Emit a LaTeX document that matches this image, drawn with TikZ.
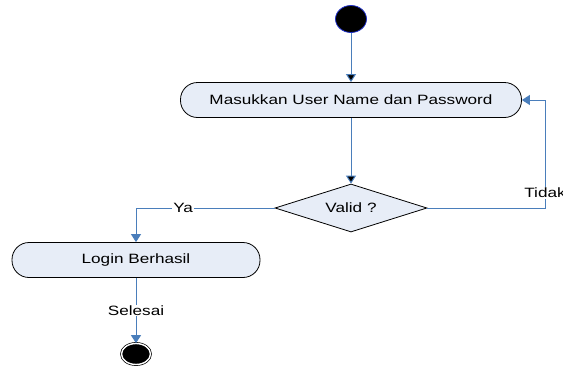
\documentclass[tikz,border=0pt]{standalone}
\usepackage{fontspec}
\setmainfont{Liberation Sans}[FakeStretch=1.27]
\usepackage{tikz}
\usetikzlibrary{positioning,shapes.geometric,arrows.meta}

\definecolor{flowblue}{HTML}{4A7EBB}
\definecolor{actfill}{HTML}{E7EDF7}
\definecolor{ringblue}{HTML}{2030C8}

\tikzset{
	act/.style={shape=rectangle,draw=black,fill=actfill,rounded corners=17pt,minimum height=35pt,line width=0.8pt,font=\fontsize{13.5}{16}\selectfont},
	flow/.style={draw=flowblue,line width=1pt,-{Triangle[width=10pt,length=8pt]}},
	lbl/.style={fill=white,inner sep=1pt,font=\fontsize{13.5}{16}\selectfont}
}

\begin{document}
\begin{tikzpicture}[x=1pt,y=-1pt]
	
	\useasboundingbox (0,0) rectangle (563,365);
	
	\node[shape=ellipse,draw=ringblue,fill=black,line width=0.8pt,minimum width=31pt,minimum height=27pt] (0) at (351,19) {};
	\node[act,minimum width=341pt] (1) at (351,100) {Masukkan User Name dan Password};
	\node[shape=diamond,draw=black,fill=actfill,line width=0.8pt,aspect=3,inner sep=0pt,minimum width=152pt,minimum height=48pt,font=\fontsize{13.5}{16}\selectfont] (2) at (351,208) {Valid ?};
	\node[act,minimum width=248pt] (3) at (136,260) {Login Berhasil};
	\node[shape=ellipse,draw=black,fill=black,double=white,double distance=1.4pt,line width=0.7pt,minimum width=29pt,minimum height=21pt] (4) at (136,354) {};
	
	\coordinate (back) at (545,100);
	
	\path [flow] (0) edge (1);
	\path [flow] (1) edge (2);
	\draw [flow] (2.east) -| (back) node[lbl,pos=0.57] {Tidak} -- (1.east);
	\draw [flow] (2.west) -| (3.north) node[lbl,pos=0.33] {Ya};
	\draw [flow] (3) -- (4) node[lbl,midway] {Selesai};
	
\end{tikzpicture}
\end{document}
